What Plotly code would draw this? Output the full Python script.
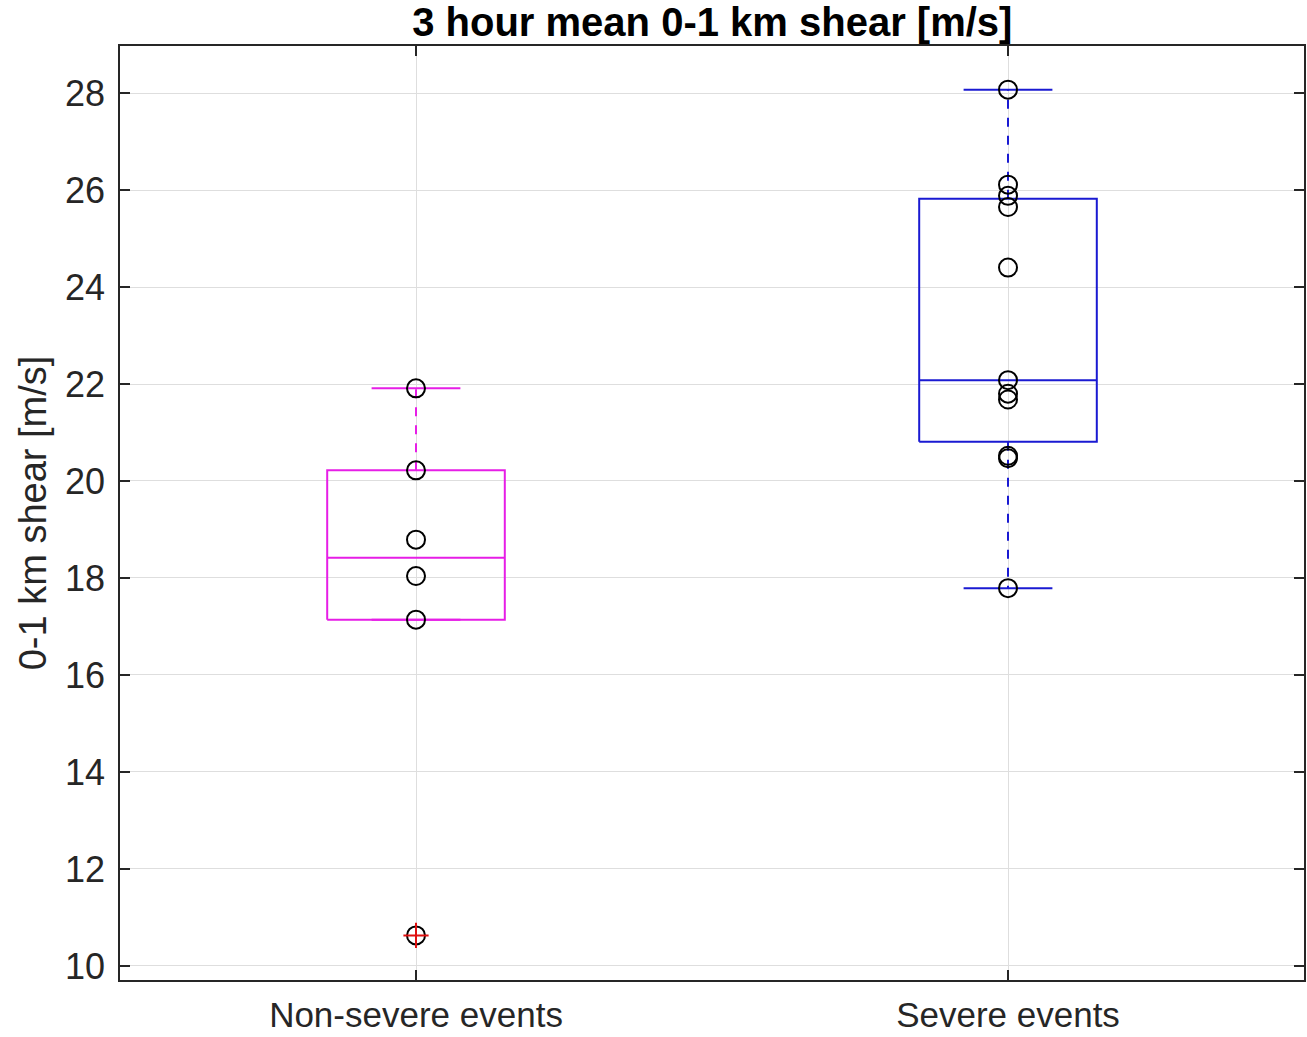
import numpy as np
import plotly.graph_objects as go

categories = ["Non-severe events", "Severe events"]
non_severe = [21.91, 20.22, 18.79, 18.04, 17.14, 10.63]
severe = [28.07, 26.11, 25.88, 25.65, 24.40, 22.08, 21.80, 21.68, 20.52, 20.47, 17.79]
box_colors = ["#e61ee6", "#1a1ad2"]
y_ticks = [10, 12, 14, 16, 18, 20, 22, 24, 26, 28]

BOX_HALF = 0.15
CAP_HALF = 0.075

fig = go.Figure()

def stats(vals):
    v = np.sort(np.asarray(vals, dtype=float))
    q1, med, q3 = np.percentile(v, [25, 50, 75], method="hazen")
    iqr = q3 - q1
    lo_lim, hi_lim = q1 - 1.5 * iqr, q3 + 1.5 * iqr
    inside = v[(v >= lo_lim) & (v <= hi_lim)]
    outl = v[(v < lo_lim) | (v > hi_lim)]
    return q1, med, q3, inside.min(), inside.max(), outl

for i, (vals, col) in enumerate(zip([non_severe, severe], box_colors)):
    c = i + 1
    q1, med, q3, wlo, whi, outl = stats(vals)
    line = dict(color=col, width=2)
    fig.add_trace(go.Scatter(x=[c - BOX_HALF, c + BOX_HALF, c + BOX_HALF, c - BOX_HALF, c - BOX_HALF],
                             y=[q1, q1, q3, q3, q1], mode="lines", line=line, hoverinfo="skip"))
    fig.add_trace(go.Scatter(x=[c - BOX_HALF, c + BOX_HALF], y=[med, med], mode="lines", line=line, hoverinfo="skip"))
    fig.add_trace(go.Scatter(x=[c, c, None, c, c], y=[q3, whi, None, q1, wlo], mode="lines",
                             line=dict(color=col, width=2, dash="dash"), hoverinfo="skip"))
    fig.add_trace(go.Scatter(x=[c - CAP_HALF, c + CAP_HALF, None, c - CAP_HALF, c + CAP_HALF],
                             y=[whi, whi, None, wlo, wlo], mode="lines", line=line, hoverinfo="skip"))
    fig.add_trace(go.Scatter(x=[c] * len(vals), y=vals, mode="markers",
                             marker=dict(symbol="circle-open", size=18, color="black", line=dict(width=2, color="black"))))
    if len(outl):
        fig.add_trace(go.Scatter(x=[c] * len(outl), y=outl, mode="markers",
                                 marker=dict(symbol="cross-thin-open", size=18, color="#e01010",
                                             line=dict(width=2, color="#e01010"))))

axis_common = dict(showline=True, linecolor="#262626", linewidth=1.5, mirror="ticks",
                   ticks="inside", ticklen=10, tickwidth=1.5, tickcolor="#262626",
                   showgrid=True, gridcolor="#dedede", gridwidth=1.2, zeroline=False,
                   automargin=False,
                   tickfont=dict(family="Liberation Sans, Arial", size=36, color="#262626"))

fig.update_layout(
    width=1307, height=1037,
    margin=dict(l=120, r=3, t=46, b=57),
    paper_bgcolor="white", plot_bgcolor="white",
    showlegend=False,
    title=dict(text="<b>3 hour mean 0-1 km shear [m/s]</b>", x=0.545, xanchor="center",
               y=1 - 22 / 1037, yanchor="middle", yref="container",
               font=dict(family="Liberation Sans, Arial", size=40, color="black")),
    xaxis=dict(range=[0.5, 2.5], tickvals=[1, 2], ticktext=categories, ticklabelstandoff=3,
               **{**axis_common, "tickfont": dict(family="Liberation Sans, Arial", size=35, color="#262626")}),
    yaxis=dict(range=[9.71, 28.97], tickvals=y_ticks, ticklabelstandoff=6,
               title=dict(text="0-1 km shear [m/s]", standoff=7,
                          font=dict(family="Liberation Sans, Arial", size=38, color="#262626")),
               **axis_common),
)

fig.write_html("out.html")
